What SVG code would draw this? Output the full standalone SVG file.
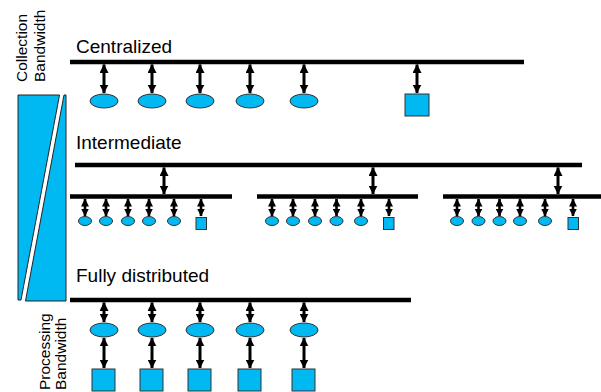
<svg xmlns="http://www.w3.org/2000/svg" width="601" height="392" viewBox="0 0 601 392">
  <defs>
    <marker id="head" viewBox="0 0 8 8" refX="7.5" refY="4" markerWidth="9" markerHeight="9" markerUnits="userSpaceOnUse" orient="auto-start-reverse">
      <path d="M0,0 L8,4 L0,8 z" fill="#000"/>
    </marker>
    <marker id="head-s" viewBox="0 0 8 8" refX="7.5" refY="4" markerWidth="8" markerHeight="8" markerUnits="userSpaceOnUse" orient="auto-start-reverse">
      <path d="M0,0 L8,4 L0,8 z" fill="#000"/>
    </marker>
  </defs>
  <style>
    text { font-family: "Liberation Sans", Arial, sans-serif; fill: #000; }
    .title { font-size: 19px; }
    .axis { font-size: 15.5px; }
    .bus { stroke: #000; stroke-width: 4.5; fill: none; }
    .link { stroke: #000; stroke-width: 3; fill: none; marker-start: url(#head); marker-end: url(#head); }
    .link-s { stroke: #000; stroke-width: 2.6; fill: none; marker-start: url(#head-s); marker-end: url(#head-s); }
    .node { fill: #00B9F2; stroke: #333; stroke-width: 1; }
    .wedge { fill: #00B9F2; stroke: #222; stroke-width: 1; }
  </style>

  <!-- bandwidth scale on the left -->
  <g id="scale">
    <polygon class="wedge" points="18,95 59.5,95 21,300 18,300"/>
    <polygon class="wedge" points="64,95 66,95 66,301 25.5,301"/>
    <text class="axis" transform="translate(27,82) rotate(-90)">Collection</text>
    <text class="axis" transform="translate(44.5,82) rotate(-90)">Bandwidth</text>
    <text class="axis" transform="translate(50,390) rotate(-90)">Processing</text>
    <text class="axis" transform="translate(66,390) rotate(-90)">Bandwidth</text>
  </g>

  <!-- section labels -->
  <g id="labels">
    <text class="title" x="76" y="53">Centralized</text>
    <text class="title" x="76" y="149">Intermediate</text>
    <text class="title" x="76" y="282">Fully distributed</text>
  </g>

  <!-- buses -->
  <g id="buses">
    <line class="bus" x1="70" y1="62" x2="524" y2="62"/>
    <line class="bus" x1="75" y1="165" x2="582" y2="165"/>
    <line class="bus" x1="70" y1="196.5" x2="232" y2="196.5"/>
    <line class="bus" x1="257" y1="196.5" x2="418" y2="196.5"/>
    <line class="bus" x1="443" y1="196.5" x2="601" y2="196.5"/>
    <line class="bus" x1="70" y1="300" x2="411" y2="300"/>
  </g>

  <!-- centralized nodes -->
  <g id="central-nodes">
    <ellipse class="node" cx="104" cy="101" rx="14" ry="7"/>
    <ellipse class="node" cx="152" cy="101" rx="14" ry="7"/>
    <ellipse class="node" cx="200" cy="101" rx="14" ry="7"/>
    <ellipse class="node" cx="250" cy="101" rx="14" ry="7"/>
    <ellipse class="node" cx="304" cy="101" rx="14" ry="7"/>
    <rect class="node" x="405" y="94" width="24" height="22"/>
  </g>

  <!-- intermediate nodes -->
  <g id="mid-a">
    <ellipse class="node" cx="85" cy="221" rx="6.5" ry="4.5"/>
    <ellipse class="node" cx="106" cy="221" rx="6.5" ry="4.5"/>
    <ellipse class="node" cx="128" cy="221" rx="6.5" ry="4.5"/>
    <ellipse class="node" cx="149" cy="221" rx="6.5" ry="4.5"/>
    <ellipse class="node" cx="174" cy="221" rx="6.5" ry="4.5"/>
    <rect class="node" x="196" y="217.5" width="10.5" height="12"/>
  </g>
  <g id="mid-b">
    <ellipse class="node" cx="272" cy="221" rx="6.5" ry="4.5"/>
    <ellipse class="node" cx="293" cy="221" rx="6.5" ry="4.5"/>
    <ellipse class="node" cx="315" cy="221" rx="6.5" ry="4.5"/>
    <ellipse class="node" cx="336.5" cy="221" rx="6.5" ry="4.5"/>
    <ellipse class="node" cx="361" cy="221" rx="6.5" ry="4.5"/>
    <rect class="node" x="383.5" y="217.5" width="10.5" height="12"/>
  </g>
  <g id="mid-c">
    <ellipse class="node" cx="457" cy="221" rx="6.5" ry="4.5"/>
    <ellipse class="node" cx="478.5" cy="221" rx="6.5" ry="4.5"/>
    <ellipse class="node" cx="499.5" cy="221" rx="6.5" ry="4.5"/>
    <ellipse class="node" cx="520" cy="221" rx="6.5" ry="4.5"/>
    <ellipse class="node" cx="545" cy="221" rx="6.5" ry="4.5"/>
    <rect class="node" x="568" y="217.5" width="10.5" height="12"/>
  </g>

  <!-- fully distributed nodes -->
  <g id="dist-nodes">
    <ellipse class="node" cx="104" cy="330" rx="14" ry="7"/>
    <ellipse class="node" cx="152" cy="330" rx="14" ry="7"/>
    <ellipse class="node" cx="200" cy="330" rx="14" ry="7"/>
    <ellipse class="node" cx="250" cy="330" rx="14" ry="7"/>
    <ellipse class="node" cx="304" cy="330" rx="14" ry="7"/>
    <rect class="node" x="92" y="369" width="23" height="22"/>
    <rect class="node" x="140" y="369" width="23" height="22"/>
    <rect class="node" x="188" y="369" width="23" height="22"/>
    <rect class="node" x="238" y="369" width="23" height="22"/>
    <rect class="node" x="292" y="369" width="23" height="22"/>
  </g>

  <!-- connectors -->
  <g id="connectors">
    <line class="link" x1="104" y1="64.5" x2="104" y2="93"/>
    <line class="link" x1="152" y1="64.5" x2="152" y2="93"/>
    <line class="link" x1="200" y1="64.5" x2="200" y2="93"/>
    <line class="link" x1="250" y1="64.5" x2="250" y2="93"/>
    <line class="link" x1="304" y1="64.5" x2="304" y2="93"/>
    <line class="link" x1="417" y1="64.5" x2="417" y2="93"/>

    <line class="link" x1="164" y1="167.5" x2="164" y2="194"/>
    <line class="link" x1="373" y1="167.5" x2="373" y2="194"/>
    <line class="link" x1="558" y1="167.5" x2="558" y2="194"/>

    <line class="link-s" x1="85" y1="199" x2="85" y2="216"/>
    <line class="link-s" x1="106" y1="199" x2="106" y2="216"/>
    <line class="link-s" x1="128" y1="199" x2="128" y2="216"/>
    <line class="link-s" x1="149" y1="199" x2="149" y2="216"/>
    <line class="link-s" x1="174" y1="199" x2="174" y2="216"/>
    <line class="link-s" x1="201" y1="199" x2="201" y2="216"/>
    <line class="link-s" x1="272" y1="199" x2="272" y2="216"/>
    <line class="link-s" x1="293" y1="199" x2="293" y2="216"/>
    <line class="link-s" x1="315" y1="199" x2="315" y2="216"/>
    <line class="link-s" x1="336.5" y1="199" x2="336.5" y2="216"/>
    <line class="link-s" x1="361" y1="199" x2="361" y2="216"/>
    <line class="link-s" x1="389" y1="199" x2="389" y2="216"/>
    <line class="link-s" x1="457" y1="199" x2="457" y2="216"/>
    <line class="link-s" x1="478.5" y1="199" x2="478.5" y2="216"/>
    <line class="link-s" x1="499.5" y1="199" x2="499.5" y2="216"/>
    <line class="link-s" x1="520" y1="199" x2="520" y2="216"/>
    <line class="link-s" x1="545" y1="199" x2="545" y2="216"/>
    <line class="link-s" x1="573" y1="199" x2="573" y2="216"/>

    <line class="link" x1="104" y1="302.5" x2="104" y2="322"/>
    <line class="link" x1="152" y1="302.5" x2="152" y2="322"/>
    <line class="link" x1="200" y1="302.5" x2="200" y2="322"/>
    <line class="link" x1="250" y1="302.5" x2="250" y2="322"/>
    <line class="link" x1="304" y1="302.5" x2="304" y2="322"/>

    <line class="link" x1="104" y1="338" x2="104" y2="368"/>
    <line class="link" x1="152" y1="338" x2="152" y2="368"/>
    <line class="link" x1="200" y1="338" x2="200" y2="368"/>
    <line class="link" x1="250" y1="338" x2="250" y2="368"/>
    <line class="link" x1="304" y1="338" x2="304" y2="368"/>
  </g>
</svg>
